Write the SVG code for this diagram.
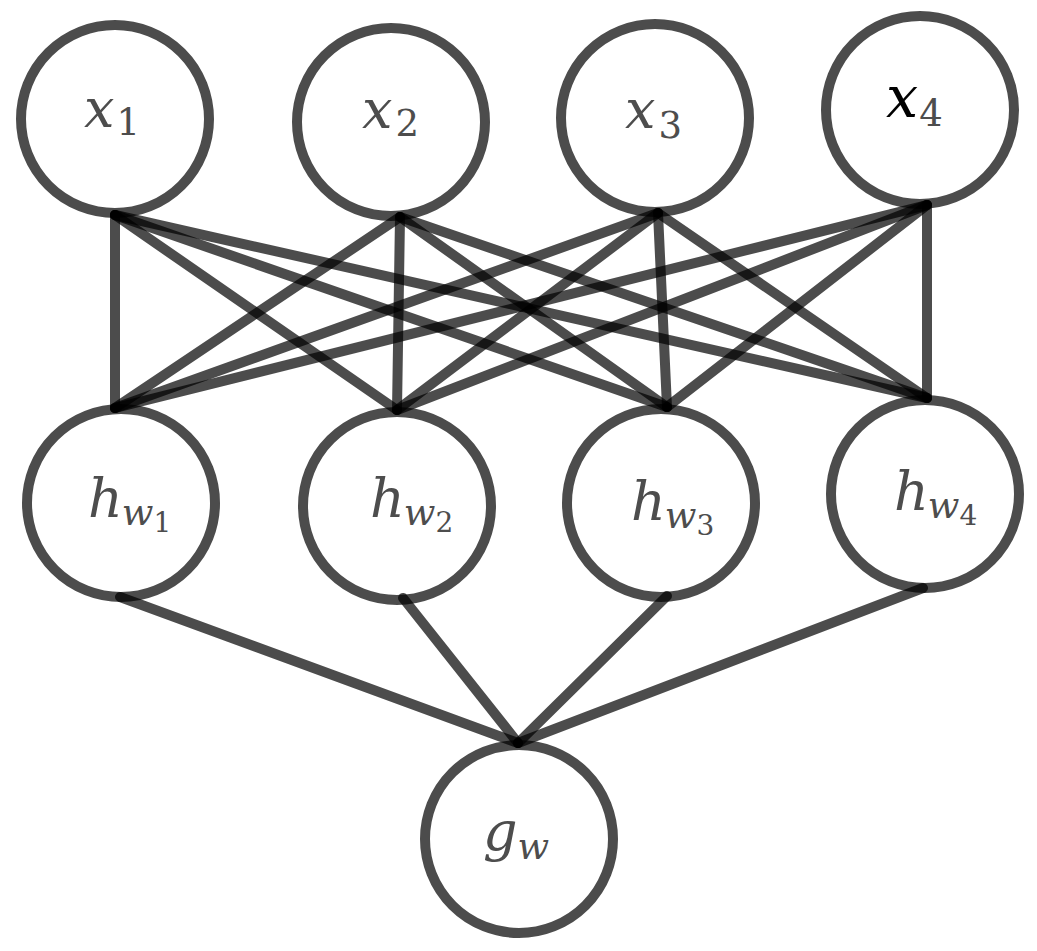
<svg xmlns="http://www.w3.org/2000/svg" width="1037" height="951" viewBox="0 0 1037 951">
<style>
.node{fill:#fff;stroke:#000;stroke-opacity:0.7;stroke-width:10}
.edge{stroke:#000;stroke-opacity:0.7;stroke-width:10;stroke-linecap:round;fill:none}
.t{font-family:"DejaVu Serif","Liberation Serif",serif;font-style:italic;fill:#4d4d4d;font-size:54px}
.s{font-size:37px}
.ss{font-size:28px}
.n{font-style:normal}
</style>
<rect width="1037" height="951" fill="#fff"/>
<g id="x1"><circle class="node" cx="115" cy="119" r="94"/><text class="t" x="84" y="127">x<tspan class="s n" dx="2" dy="8">1</tspan></text></g>
<g id="x2"><circle class="node" cx="391" cy="122" r="94"/><text class="t" x="362" y="128">x<tspan class="s n" dx="3" dy="8">2</tspan></text></g>
<g id="x3"><circle class="node" cx="655" cy="118" r="94"/><text class="t" x="625" y="128">x<tspan class="s n" dx="3" dy="10">3</tspan></text></g>
<g id="x4"><circle class="node" cx="920" cy="110" r="94"/><text class="t" x="886" y="117"><tspan style="fill:#000;font-size:57px">x</tspan><tspan class="s n" dx="1" dy="9">4</tspan></text></g>
<g id="h1"><circle class="node" cx="121" cy="503" r="94"/><text class="t" x="88" y="517">h<tspan class="s" dx="-1" dy="8">w</tspan><tspan class="ss n" dy="7">1</tspan></text></g>
<g id="h2"><circle class="node" cx="397" cy="506" r="94"/><text class="t" x="370" y="517">h<tspan class="s" dx="-1" dy="8">w</tspan><tspan class="ss n" dy="7">2</tspan></text></g>
<g id="h3"><circle class="node" cx="661" cy="503" r="94"/><text class="t" x="631" y="520">h<tspan class="s" dx="-1" dy="8">w</tspan><tspan class="ss n" dy="7">3</tspan></text></g>
<g id="h4"><circle class="node" cx="925" cy="494" r="94"/><text class="t" x="894" y="510">h<tspan class="s" dx="-1" dy="8">w</tspan><tspan class="ss n" dy="7">4</tspan></text></g>
<g id="g"><circle class="node" cx="519" cy="839" r="94"/><text class="t" x="483" y="850">g<tspan class="s" dy="9">w</tspan></text></g>
<g id="connectors">
<line class="edge" x1="115" y1="215" x2="115" y2="408"/>
<line class="edge" x1="115" y1="215" x2="397" y2="410"/>
<line class="edge" x1="115" y1="215" x2="667" y2="407"/>
<line class="edge" x1="115" y1="215" x2="927" y2="398"/>
<line class="edge" x1="400" y1="217" x2="115" y2="408"/>
<line class="edge" x1="400" y1="217" x2="397" y2="410"/>
<line class="edge" x1="400" y1="217" x2="667" y2="407"/>
<line class="edge" x1="400" y1="217" x2="927" y2="398"/>
<line class="edge" x1="658" y1="213" x2="115" y2="408"/>
<line class="edge" x1="658" y1="213" x2="397" y2="410"/>
<line class="edge" x1="658" y1="213" x2="667" y2="407"/>
<line class="edge" x1="658" y1="213" x2="927" y2="398"/>
<line class="edge" x1="927" y1="205" x2="115" y2="408"/>
<line class="edge" x1="927" y1="205" x2="397" y2="410"/>
<line class="edge" x1="927" y1="205" x2="667" y2="407"/>
<line class="edge" x1="927" y1="205" x2="927" y2="398"/>
<line class="edge" x1="120" y1="597" x2="518" y2="743"/>
<line class="edge" x1="403" y1="598" x2="518" y2="743"/>
<line class="edge" x1="667" y1="596" x2="518" y2="743"/>
<line class="edge" x1="923" y1="588" x2="518" y2="743"/>
</g>
</svg>
